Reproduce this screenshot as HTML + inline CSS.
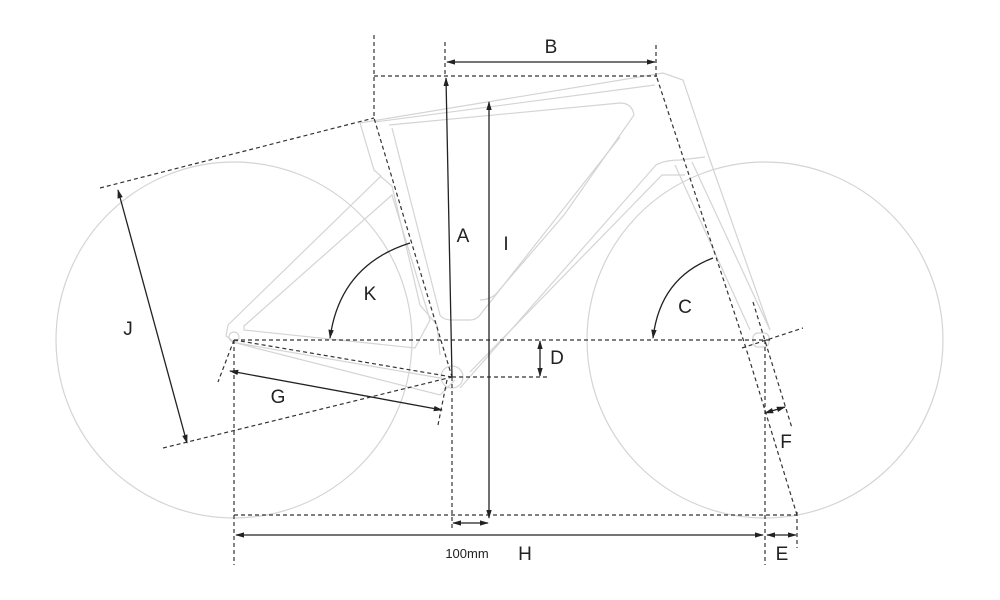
<!DOCTYPE html>
<html><head><style>html,body{margin:0;padding:0;background:#fff}svg{display:block}</style></head><body>
<svg width="1000" height="600" viewBox="0 0 1000 600" xmlns="http://www.w3.org/2000/svg" font-family="Liberation Sans, sans-serif">
<defs>
<marker id="ar" viewBox="0 0 10 10" refX="9" refY="5" markerWidth="7" markerHeight="7" orient="auto-start-reverse"><path d="M0,2 L10,5 L0,8 z" fill="#222"/></marker>
</defs>
<!-- wheels -->
<g fill="none" stroke="#d4d4d4" stroke-width="1.2">
<circle cx="234" cy="340" r="178"/>
<circle cx="765" cy="340" r="178"/>
<circle cx="452" cy="377" r="11"/>
<circle cx="234" cy="337" r="5"/>
<rect x="753" y="333" width="16" height="14" rx="5"/>
<!-- frame -->
<path d="M360,123 L663,73 L683,80 L710,160 L770,330"/>
<path d="M375,122 L655,85"/>
<path d="M360,123 L374,170 L381,176 L228,325 L226,336 L236,343 L440,395 L455,380"/>
<path d="M380,176 L392,186 L420,305 L437,325 L440,355"/>
<path d="M389,125 L620,103 Q632,103 634,115 L564,215 L495,295 Q488,300 480,300"/>
<path d="M392,128 L440,315 Q443,320 452,320 L470,320 Q476,320 480,315 L620,137"/>
<path d="M244,326 L392,195 L430,320 L415,348 L244,330 Z"/>
<path d="M237,343 L440,378"/>
<path d="M460,388 L656,165 Q665,160 680,160 L705,157"/>
<path d="M470,372 L662,175 L685,175"/>
<path d="M675,165 L750,330"/>
<path d="M692,162 L770,330"/>
</g>
<!-- dashed lines -->
<g fill="none" stroke="#333" stroke-width="1.2" stroke-dasharray="4,3">
<path d="M374,35 L374,118 L452,377"/>
<path d="M374,76 L657,76"/>
<path d="M445,42 L445,76"/>
<path d="M656,45 L656,80"/>
<path d="M657,78 L745,345 L797,515"/>
<path d="M753,302 L792,428"/>
<path d="M742,348 L803,328"/>
<path d="M234,340 L770,340"/>
<path d="M452,377 L550,377"/>
<path d="M234,340 L452,377"/>
<path d="M100,188 L374,118"/>
<path d="M163,448 L452,377"/>
<path d="M234,340 L218,382"/>
<path d="M447,380 L438,425"/>
<path d="M234,340 L234,565"/>
<path d="M765,340 L765,565"/>
<path d="M797,512 L797,548"/>
<path d="M234,515 L797,515"/>
<path d="M452,377 L452,530"/>
</g>
<!-- arrows -->
<g fill="none" stroke="#222" stroke-width="1.3">
<path d="M447,62 L655,62" marker-start="url(#ar)" marker-end="url(#ar)"/>
<path d="M452,377 L446,78" marker-end="url(#ar)"/>
<path d="M489,102 L489,518" marker-start="url(#ar)" marker-end="url(#ar)"/>
<path d="M540,341 L540,376" marker-start="url(#ar)" marker-end="url(#ar)"/>
<path d="M118,190 L187,443" marker-start="url(#ar)" marker-end="url(#ar)"/>
<path d="M230,371 L442,410" marker-start="url(#ar)" marker-end="url(#ar)"/>
<path d="M453,523 L488,523" marker-start="url(#ar)" marker-end="url(#ar)"/>
<path d="M236,535 L763,535" marker-start="url(#ar)" marker-end="url(#ar)"/>
<path d="M767,535 L796,535" marker-start="url(#ar)" marker-end="url(#ar)"/>
<path d="M765,413 L785,407" marker-start="url(#ar)" marker-end="url(#ar)"/>
<path d="M410,243 Q340,265 330,338" marker-end="url(#ar)"/>
<path d="M713,258 Q660,278 653,338" marker-end="url(#ar)"/>
</g>
<g font-size="19" fill="#222" text-anchor="middle">
<text x="463" y="242">A</text>
<text x="506" y="250">I</text>
<text x="551" y="53">B</text>
<text x="370" y="300">K</text>
<text x="685" y="313">C</text>
<text x="557" y="364">D</text>
<text x="278" y="403">G</text>
<text x="128" y="335">J</text>
<text x="786" y="448">F</text>
<text x="782" y="560">E</text>
<text x="525" y="560">H</text>
<text x="467" y="558" font-size="13">100mm</text>
</g>
</svg>
</body></html>
